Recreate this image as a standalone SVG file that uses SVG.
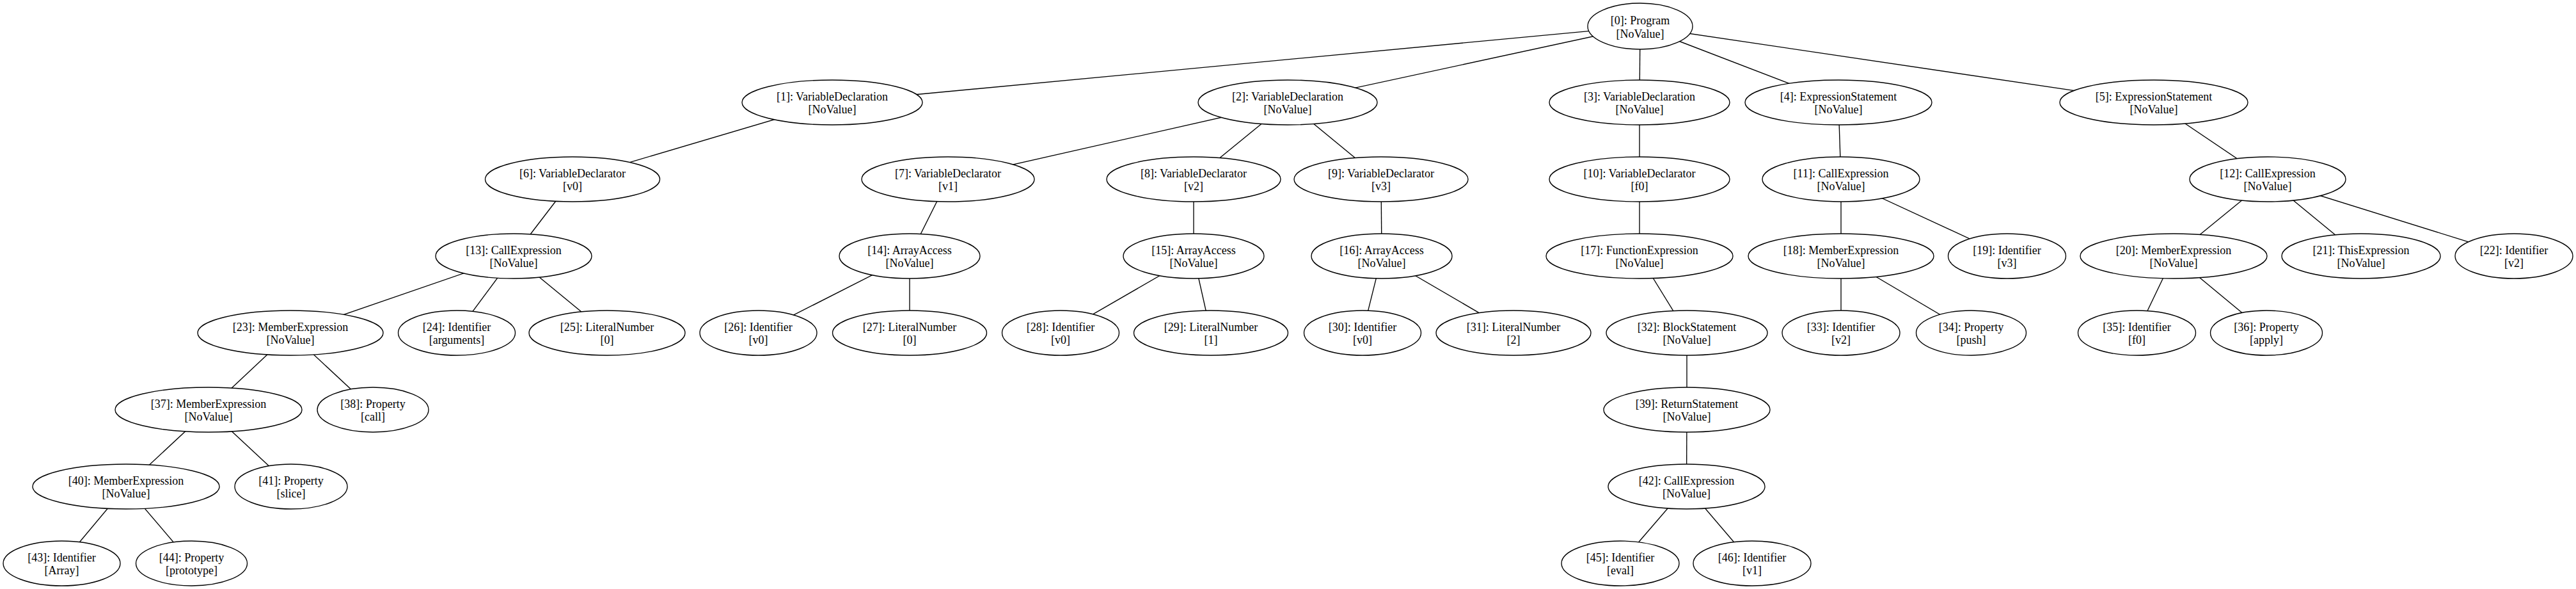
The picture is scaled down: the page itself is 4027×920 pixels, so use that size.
<svg xmlns="http://www.w3.org/2000/svg" width="4027" height="920" viewBox="0 0 4027 920">
<style>
.n ellipse{fill:#fff;stroke:#000;stroke-width:1.35}
.n text{font-family:"Liberation Serif","Times New Roman",serif;font-size:18px;text-anchor:middle;fill:#000}
#edges line{stroke:#000;stroke-width:1.35}
</style>
<rect width="4027" height="920" fill="#fff"/>
<g id="edges">
<line x1="2564" y1="41" x2="1301" y2="160"/>
<line x1="2564" y1="41" x2="2013" y2="160"/>
<line x1="2564" y1="41" x2="2563" y2="160"/>
<line x1="2564" y1="41" x2="2874" y2="160"/>
<line x1="2564" y1="41" x2="3367" y2="160"/>
<line x1="1301" y1="160" x2="895" y2="280"/>
<line x1="2013" y1="160" x2="1482" y2="280"/>
<line x1="2013" y1="160" x2="1866" y2="280"/>
<line x1="2013" y1="160" x2="2159" y2="280"/>
<line x1="2563" y1="160" x2="2563" y2="280"/>
<line x1="2874" y1="160" x2="2878" y2="280"/>
<line x1="3367" y1="160" x2="3545" y2="280"/>
<line x1="895" y1="280" x2="803" y2="400"/>
<line x1="1482" y1="280" x2="1422" y2="400"/>
<line x1="1866" y1="280" x2="1866" y2="400"/>
<line x1="2159" y1="280" x2="2160" y2="400"/>
<line x1="2563" y1="280" x2="2563" y2="400"/>
<line x1="2878" y1="280" x2="2878" y2="400"/>
<line x1="2878" y1="280" x2="3137.5" y2="400"/>
<line x1="3545" y1="280" x2="3398" y2="400"/>
<line x1="3545" y1="280" x2="3691" y2="400"/>
<line x1="3545" y1="280" x2="3930" y2="400"/>
<line x1="803" y1="400" x2="454" y2="520"/>
<line x1="803" y1="400" x2="714" y2="520"/>
<line x1="803" y1="400" x2="949" y2="520"/>
<line x1="1422" y1="400" x2="1185.5" y2="520"/>
<line x1="1422" y1="400" x2="1422" y2="520"/>
<line x1="1866" y1="400" x2="1658" y2="520"/>
<line x1="1866" y1="400" x2="1893" y2="520"/>
<line x1="2160" y1="400" x2="2130" y2="520"/>
<line x1="2160" y1="400" x2="2366" y2="520"/>
<line x1="2563" y1="400" x2="2637" y2="520"/>
<line x1="2878" y1="400" x2="2878" y2="520"/>
<line x1="2878" y1="400" x2="3081.5" y2="520"/>
<line x1="3398" y1="400" x2="3340.5" y2="520"/>
<line x1="3398" y1="400" x2="3543" y2="520"/>
<line x1="454" y1="520" x2="326" y2="640"/>
<line x1="454" y1="520" x2="583" y2="640"/>
<line x1="2637" y1="520" x2="2637" y2="640"/>
<line x1="326" y1="640" x2="197" y2="760"/>
<line x1="326" y1="640" x2="455" y2="760"/>
<line x1="2637" y1="640" x2="2636.5" y2="760"/>
<line x1="197" y1="760" x2="96.5" y2="880"/>
<line x1="197" y1="760" x2="299.5" y2="880"/>
<line x1="2636.5" y1="760" x2="2533" y2="880"/>
<line x1="2636.5" y1="760" x2="2739" y2="880"/>
</g>
<g id="n0" class="n"><ellipse cx="2564" cy="41" rx="82" ry="36"/><text x="2564" y="37.5">[0]: Program</text><text x="2564" y="58.5">[NoValue]</text></g>
<g id="n1" class="n"><ellipse cx="1301" cy="160" rx="141" ry="35"/><text x="1301" y="156.5">[1]: VariableDeclaration</text><text x="1301" y="176.5">[NoValue]</text></g>
<g id="n2" class="n"><ellipse cx="2013" cy="160" rx="140" ry="35"/><text x="2013" y="156.5">[2]: VariableDeclaration</text><text x="2013" y="176.5">[NoValue]</text></g>
<g id="n3" class="n"><ellipse cx="2563" cy="160" rx="141" ry="35"/><text x="2563" y="156.5">[3]: VariableDeclaration</text><text x="2563" y="176.5">[NoValue]</text></g>
<g id="n4" class="n"><ellipse cx="2874" cy="160" rx="146" ry="35"/><text x="2874" y="156.5">[4]: ExpressionStatement</text><text x="2874" y="176.5">[NoValue]</text></g>
<g id="n5" class="n"><ellipse cx="3367" cy="160" rx="147" ry="35"/><text x="3367" y="156.5">[5]: ExpressionStatement</text><text x="3367" y="176.5">[NoValue]</text></g>
<g id="n6" class="n"><ellipse cx="895" cy="280" rx="136.5" ry="35"/><text x="895" y="276.5">[6]: VariableDeclarator</text><text x="895" y="296.5">[v0]</text></g>
<g id="n7" class="n"><ellipse cx="1482" cy="280" rx="135" ry="35"/><text x="1482" y="276.5">[7]: VariableDeclarator</text><text x="1482" y="296.5">[v1]</text></g>
<g id="n8" class="n"><ellipse cx="1866" cy="280" rx="136" ry="35"/><text x="1866" y="276.5">[8]: VariableDeclarator</text><text x="1866" y="296.5">[v2]</text></g>
<g id="n9" class="n"><ellipse cx="2159" cy="280" rx="136" ry="35"/><text x="2159" y="276.5">[9]: VariableDeclarator</text><text x="2159" y="296.5">[v3]</text></g>
<g id="n10" class="n"><ellipse cx="2563" cy="280" rx="141" ry="35"/><text x="2563" y="276.5">[10]: VariableDeclarator</text><text x="2563" y="296.5">[f0]</text></g>
<g id="n11" class="n"><ellipse cx="2878" cy="280" rx="123" ry="35"/><text x="2878" y="276.5">[11]: CallExpression</text><text x="2878" y="296.5">[NoValue]</text></g>
<g id="n12" class="n"><ellipse cx="3545" cy="280" rx="122" ry="35"/><text x="3545" y="276.5">[12]: CallExpression</text><text x="3545" y="296.5">[NoValue]</text></g>
<g id="n13" class="n"><ellipse cx="803" cy="400" rx="122" ry="35"/><text x="803" y="396.5">[13]: CallExpression</text><text x="803" y="416.5">[NoValue]</text></g>
<g id="n14" class="n"><ellipse cx="1422" cy="400" rx="110" ry="35"/><text x="1422" y="396.5">[14]: ArrayAccess</text><text x="1422" y="416.5">[NoValue]</text></g>
<g id="n15" class="n"><ellipse cx="1866" cy="400" rx="110" ry="35"/><text x="1866" y="396.5">[15]: ArrayAccess</text><text x="1866" y="416.5">[NoValue]</text></g>
<g id="n16" class="n"><ellipse cx="2160" cy="400" rx="110" ry="35"/><text x="2160" y="396.5">[16]: ArrayAccess</text><text x="2160" y="416.5">[NoValue]</text></g>
<g id="n17" class="n"><ellipse cx="2563" cy="400" rx="146" ry="35"/><text x="2563" y="396.5">[17]: FunctionExpression</text><text x="2563" y="416.5">[NoValue]</text></g>
<g id="n18" class="n"><ellipse cx="2878" cy="400" rx="145" ry="35"/><text x="2878" y="396.5">[18]: MemberExpression</text><text x="2878" y="416.5">[NoValue]</text></g>
<g id="n19" class="n"><ellipse cx="3137.5" cy="400" rx="92" ry="35"/><text x="3137.5" y="396.5">[19]: Identifier</text><text x="3137.5" y="416.5">[v3]</text></g>
<g id="n20" class="n"><ellipse cx="3398" cy="400" rx="146" ry="35"/><text x="3398" y="396.5">[20]: MemberExpression</text><text x="3398" y="416.5">[NoValue]</text></g>
<g id="n21" class="n"><ellipse cx="3691" cy="400" rx="124" ry="35"/><text x="3691" y="396.5">[21]: ThisExpression</text><text x="3691" y="416.5">[NoValue]</text></g>
<g id="n22" class="n"><ellipse cx="3930" cy="400" rx="92" ry="35"/><text x="3930" y="396.5">[22]: Identifier</text><text x="3930" y="416.5">[v2]</text></g>
<g id="n23" class="n"><ellipse cx="454" cy="520" rx="145" ry="35"/><text x="454" y="516.5">[23]: MemberExpression</text><text x="454" y="536.5">[NoValue]</text></g>
<g id="n24" class="n"><ellipse cx="714" cy="520" rx="91.5" ry="35"/><text x="714" y="516.5">[24]: Identifier</text><text x="714" y="536.5">[arguments]</text></g>
<g id="n25" class="n"><ellipse cx="949" cy="520" rx="122" ry="35"/><text x="949" y="516.5">[25]: LiteralNumber</text><text x="949" y="536.5">[0]</text></g>
<g id="n26" class="n"><ellipse cx="1185.5" cy="520" rx="91.5" ry="35"/><text x="1185.5" y="516.5">[26]: Identifier</text><text x="1185.5" y="536.5">[v0]</text></g>
<g id="n27" class="n"><ellipse cx="1422" cy="520" rx="120.5" ry="35"/><text x="1422" y="516.5">[27]: LiteralNumber</text><text x="1422" y="536.5">[0]</text></g>
<g id="n28" class="n"><ellipse cx="1658" cy="520" rx="91.5" ry="35"/><text x="1658" y="516.5">[28]: Identifier</text><text x="1658" y="536.5">[v0]</text></g>
<g id="n29" class="n"><ellipse cx="1893" cy="520" rx="120.5" ry="35"/><text x="1893" y="516.5">[29]: LiteralNumber</text><text x="1893" y="536.5">[1]</text></g>
<g id="n30" class="n"><ellipse cx="2130" cy="520" rx="91.5" ry="35"/><text x="2130" y="516.5">[30]: Identifier</text><text x="2130" y="536.5">[v0]</text></g>
<g id="n31" class="n"><ellipse cx="2366" cy="520" rx="121" ry="35"/><text x="2366" y="516.5">[31]: LiteralNumber</text><text x="2366" y="536.5">[2]</text></g>
<g id="n32" class="n"><ellipse cx="2637" cy="520" rx="126" ry="35"/><text x="2637" y="516.5">[32]: BlockStatement</text><text x="2637" y="536.5">[NoValue]</text></g>
<g id="n33" class="n"><ellipse cx="2878" cy="520" rx="92" ry="35"/><text x="2878" y="516.5">[33]: Identifier</text><text x="2878" y="536.5">[v2]</text></g>
<g id="n34" class="n"><ellipse cx="3081.5" cy="520" rx="86" ry="35"/><text x="3081.5" y="516.5">[34]: Property</text><text x="3081.5" y="536.5">[push]</text></g>
<g id="n35" class="n"><ellipse cx="3340.5" cy="520" rx="92" ry="35"/><text x="3340.5" y="516.5">[35]: Identifier</text><text x="3340.5" y="536.5">[f0]</text></g>
<g id="n36" class="n"><ellipse cx="3543" cy="520" rx="87.5" ry="35"/><text x="3543" y="516.5">[36]: Property</text><text x="3543" y="536.5">[apply]</text></g>
<g id="n37" class="n"><ellipse cx="326" cy="640" rx="146" ry="35"/><text x="326" y="636.5">[37]: MemberExpression</text><text x="326" y="656.5">[NoValue]</text></g>
<g id="n38" class="n"><ellipse cx="583" cy="640" rx="87" ry="35"/><text x="583" y="636.5">[38]: Property</text><text x="583" y="656.5">[call]</text></g>
<g id="n39" class="n"><ellipse cx="2637" cy="640" rx="130" ry="35"/><text x="2637" y="636.5">[39]: ReturnStatement</text><text x="2637" y="656.5">[NoValue]</text></g>
<g id="n40" class="n"><ellipse cx="197" cy="760" rx="146" ry="35"/><text x="197" y="756.5">[40]: MemberExpression</text><text x="197" y="776.5">[NoValue]</text></g>
<g id="n41" class="n"><ellipse cx="455" cy="760" rx="88" ry="35"/><text x="455" y="756.5">[41]: Property</text><text x="455" y="776.5">[slice]</text></g>
<g id="n42" class="n"><ellipse cx="2636.5" cy="760" rx="122.5" ry="35"/><text x="2636.5" y="756.5">[42]: CallExpression</text><text x="2636.5" y="776.5">[NoValue]</text></g>
<g id="n43" class="n"><ellipse cx="96.5" cy="880" rx="91.5" ry="35"/><text x="96.5" y="876.5">[43]: Identifier</text><text x="96.5" y="896.5">[Array]</text></g>
<g id="n44" class="n"><ellipse cx="299.5" cy="880" rx="87" ry="35"/><text x="299.5" y="876.5">[44]: Property</text><text x="299.5" y="896.5">[prototype]</text></g>
<g id="n45" class="n"><ellipse cx="2533" cy="880" rx="92" ry="35"/><text x="2533" y="876.5">[45]: Identifier</text><text x="2533" y="896.5">[eval]</text></g>
<g id="n46" class="n"><ellipse cx="2739" cy="880" rx="92" ry="35"/><text x="2739" y="876.5">[46]: Identifier</text><text x="2739" y="896.5">[v1]</text></g>
</svg>
